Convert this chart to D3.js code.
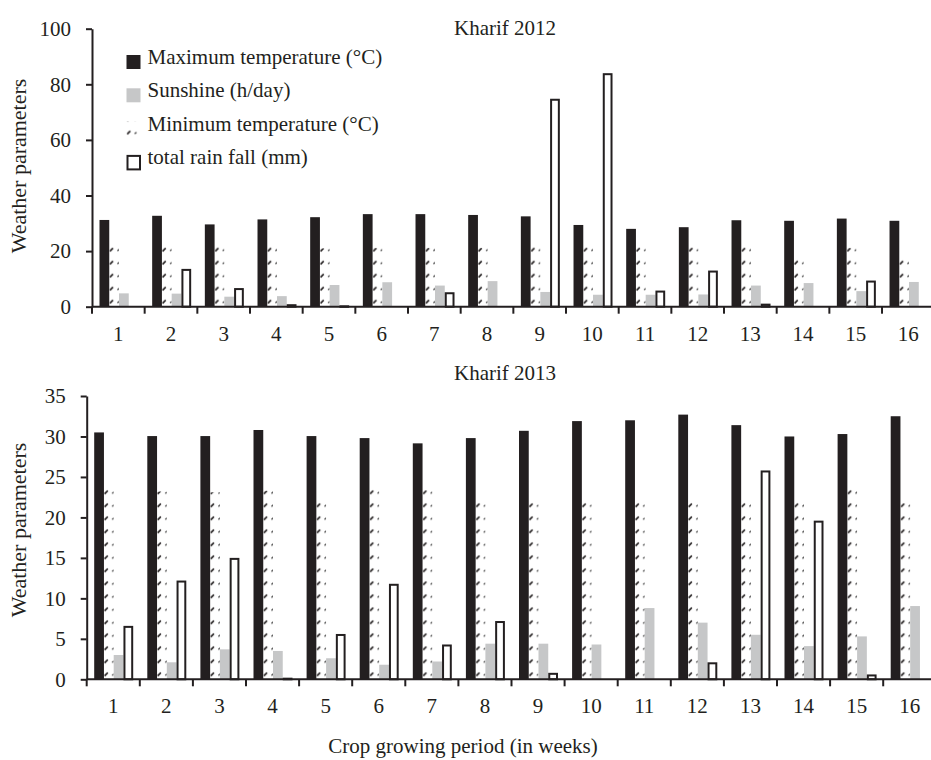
<!DOCTYPE html>
<html>
<head>
<meta charset="utf-8">
<script src="https://cdn.jsdelivr.net/npm/d3@7/dist/d3.min.js"></script>
<style>
  body { margin: 0; background: #fff; }
  svg { display: block; font-family: "Liberation Serif", "DejaVu Serif", serif; }
  .axis text { font-size: 21px; fill: #231f20; font-family: "Liberation Serif", serif; }
  .axis path, .axis line { stroke: #231f20; stroke-width: 2; }
</style>
</head>
<body>
<svg id="chart" width="931" height="760"></svg>
<script>
// Categorías (semanas del periodo de cultivo)
const weeks = ['1','2','3','4','5','6','7','8','9','10','11','12','13','14','15','16'];
const seriesKeys = ['max', 'min', 'sun', 'rain'];
const seriesLabels = ['Maximum temperature (°C)', 'Sunshine (h/day)', 'Minimum temperature (°C)', 'total rain fall (mm)'];

// Kharif 2012
const maxTemp2012 = [31.2, 32.7, 29.6, 31.4, 32.2, 33.3, 33.3, 33.0, 32.5, 29.4, 28.0, 28.6, 31.1, 30.9, 31.7, 30.9];
const minTemp2012 = [21.4, 21.4, 23.2, 23.3, 21.0, 21.2, 21.2, 21.2, 23.0, 21.4, 21.4, 21.4, 21.4, 18.7, 21.2, 18.7];
const sunshine2012 = [4.8, 4.7, 3.6, 3.8, 7.8, 8.8, 7.6, 9.2, 5.3, 4.3, 4.3, 4.4, 7.6, 8.5, 5.6, 8.9];
const rain2012 = [0, 13.6, 6.7, 0.9, 0.5, 0, 5.2, 0, 74.8, 84.0, 5.8, 13.0, 1.1, 0, 9.4, 0];
const yTicks2012 = [0, 20, 40, 60, 80, 100];

// Kharif 2013
const maxTemp2013 = [30.5, 30.05, 30.05, 30.8, 30.05, 29.8, 29.15, 29.8, 30.7, 31.9, 32.0, 32.7, 31.4, 30.0, 30.3, 32.5];
const minTemp2013 = [23.7, 23.2, 23.1, 23.3, 22.1, 23.8, 23.4, 22.3, 22.3, 22.3, 22.3, 22.3, 22.3, 22.1, 23.9, 21.8];
const sunshine2013 = [3.0, 2.1, 3.7, 3.5, 2.6, 1.8, 2.2, 4.4, 4.4, 4.3, 8.8, 7.0, 5.5, 4.1, 5.3, 9.05];
const rain2013 = [6.6, 12.2, 15.0, 0.2, 5.6, 11.8, 4.3, 7.2, 0.8, 0, 0, 2.1, 25.8, 19.6, 0.6, 0];
const yTicks2013 = [0, 5, 10, 15, 20, 25, 30, 35];

const INK = '#231f20';
const GREY = '#c6c7c8';

const svg = d3.select('#chart');
const defs = svg.append('defs');

// Patrón para la temperatura mínima (marcas diagonales pequeñas)
function addHatch(id, x0, y0, w) {
    const p = defs.append('pattern')
        .attr('id', id)
        .attr('patternUnits', 'userSpaceOnUse')
        .attr('x', x0).attr('y', y0)
        .attr('width', w).attr('height', 13);
    p.append('path').attr('d', 'M0.6,9.6 L3.8,6.4').attr('stroke', INK).attr('stroke-width', 1.6);
    p.append('path').attr('d', 'M8.3,9.2 L9.9,7.6').attr('stroke', '#333').attr('stroke-width', 1.3);
}

function drawPanel(cfg) {
    const x = d3.scaleBand().domain(weeks).range(cfg.xRange).padding(0);
    const y = d3.scaleLinear().domain([0, cfg.yMax]).range([cfg.y0, cfg.yTop]);
    const xSub = d3.scaleBand().domain(seriesKeys).range([7.5, 46.5]);
    const bw = xSub.bandwidth();

    addHatch(cfg.id + '-hatch', x(weeks[0]) + xSub('min'), cfg.y0, x.step());

    const rows = weeks.map((w, i) => ({
        week: w,
        max: cfg.max[i], min: cfg.min[i], sun: cfg.sun[i], rain: cfg.rain[i]
    }));

    const g = svg.append('g');

    // Barras
    const groups = g.selectAll('.week')
        .data(rows)
        .enter()
        .append('g')
        .attr('transform', d => `translate(${x(d.week)},0)`);

    groups.append('rect')
        .attr('x', xSub('max')).attr('width', bw)
        .attr('y', d => y(d.max)).attr('height', d => cfg.y0 - y(d.max))
        .attr('fill', INK);

    // el patrón usa coordenadas absolutas, así que se deshace la traslación del grupo
    groups.append('rect')
        .attr('transform', d => `translate(${-x(d.week)},0)`)
        .attr('x', d => x(d.week) + xSub('min')).attr('width', bw)
        .attr('y', d => y(d.min)).attr('height', d => cfg.y0 - y(d.min))
        .attr('fill', `url(#${cfg.id}-hatch)`);

    groups.append('rect')
        .attr('x', xSub('sun')).attr('width', bw)
        .attr('y', d => y(d.sun)).attr('height', d => cfg.y0 - y(d.sun))
        .attr('fill', GREY);

    groups.filter(d => d.rain > 0).append('rect')
        .attr('x', xSub('rain') + 1).attr('width', bw - 2)
        .attr('y', d => y(d.rain) + 1).attr('height', d => Math.max(0.5, cfg.y0 - y(d.rain) - 1))
        .attr('fill', '#fff')
        .attr('stroke', INK).attr('stroke-width', 2);

    // Eje X: etiquetas centradas, marcas en los límites de cada semana
    const xAxis = g.append('g')
        .attr('class', 'axis')
        .attr('transform', `translate(0,${cfg.y0})`)
        .call(d3.axisBottom(x).tickSize(0).tickPadding(cfg.xPad).tickSizeOuter(0));
    xAxis.select('.domain').attr('d', `M${cfg.xRange[0]},0H${cfg.xRange[1]}`);
    xAxis.selectAll('.boundary')
        .data(weeks)
        .enter()
        .append('line')
        .attr('x1', d => x(d)).attr('x2', d => x(d))
        .attr('y1', 0).attr('y2', 7);

    // Eje Y
    g.append('g')
        .attr('class', 'axis')
        .attr('transform', `translate(${cfg.xRange[0]},0)`)
        .call(d3.axisLeft(y).tickValues(cfg.yTicks).tickSize(6).tickPadding(15).tickSizeOuter(0));

    // Título del panel
    g.append('text')
        .attr('x', cfg.titleX).attr('y', cfg.titleY)
        .attr('text-anchor', 'middle')
        .attr('font-size', 21).attr('fill', INK)
        .text(cfg.title);

    // Etiqueta del eje Y
    g.append('text')
        .attr('transform', `translate(26,${cfg.yLabelY}) rotate(-90)`)
        .attr('text-anchor', 'middle')
        .attr('font-size', 22).attr('fill', INK)
        .text('Weather parameters');
}

drawPanel({
    id: 'k2012', title: 'Kharif 2012', titleX: 505, titleY: 35,
    xRange: [92, 934.7], y0: 306.7, yTop: 28.7, yMax: 100, yTicks: yTicks2012,
    max: maxTemp2012, min: minTemp2012, sun: sunshine2012, rain: rain2012,
    xPad: 19, yLabelY: 166
});

drawPanel({
    id: 'k2013', title: 'Kharif 2013', titleX: 505, titleY: 380,
    xRange: [86.7, 936.3], y0: 679.3, yTop: 396, yMax: 35, yTicks: yTicks2013,
    max: maxTemp2013, min: minTemp2013, sun: sunshine2013, rain: rain2013,
    xPad: 19, yLabelY: 530
});

// Título del eje X
svg.append('text')
    .attr('x', 463).attr('y', 753)
    .attr('text-anchor', 'middle')
    .attr('font-size', 21).attr('fill', INK)
    .text('Crop growing period (in weeks)');

// Leyenda (el patrón se ancla al cuadro de la leyenda, en coordenadas locales)
addHatch('legend-hatch', 0, 3, 52);
const legendFills = [INK, GREY, 'url(#legend-hatch)', '#fff'];
const legend = svg.append('g').attr('transform', 'translate(126.5,55)');
const items = legend.selectAll('.item')
    .data(seriesLabels)
    .enter()
    .append('g')
    .attr('transform', (d, i) => `translate(0,${i * 33.3})`);
items.append('rect')
    .attr('x', (d, i) => i === 3 ? 1 : 0)
    .attr('y', (d, i) => i === 3 ? 1 : 0)
    .attr('width', (d, i) => i === 3 ? 12.5 : 14)
    .attr('height', (d, i) => i === 3 ? 13.5 : 14)
    .attr('fill', (d, i) => legendFills[i])
    .attr('stroke', (d, i) => i === 3 ? INK : 'none')
    .attr('stroke-width', 2);
items.append('text')
    .attr('x', 21).attr('y', 9)
    .attr('font-size', 21).attr('fill', INK)
    .text(d => d);
</script>
</body>
</html>
